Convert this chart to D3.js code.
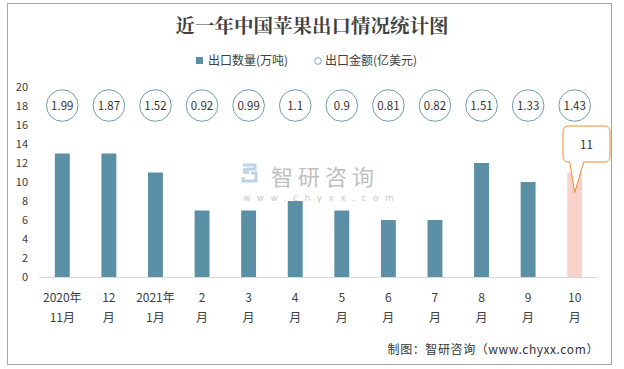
<!DOCTYPE html>
<html><head><meta charset="utf-8">
<script src="https://cdn.jsdelivr.net/npm/d3@7"></script>
<style>body{margin:0;background:#fff}svg{display:block}</style>
</head><body>
<svg id="c" width="624" height="369"></svg>
<script>
const categories = ["2020年\n11月","12\n月","2021年\n1月","2\n月","3\n月","4\n月","5\n月","6\n月","7\n月","8\n月","9\n月","10\n月"];
const quantity = [13,13,11,7,7,8,7,6,6,12,10,11];
const amount = [1.99,1.87,1.52,0.92,0.99,1.1,0.9,0.81,0.82,1.51,1.33,1.43];
const yTicks = [0,2,4,6,8,10,12,14,16,18,20];
const circleLevel = 18;
const title = "近一年中国苹果出口情况统计图";
const legendLabels = ["出口数量(万吨)","出口金额(亿美元)"];
const footer = "制图：智研咨询（www.chyxx.com）";

const svg = d3.select("#c");
const font = "'Microsoft YaHei','Noto Sans CJK SC','Noto Sans',sans-serif";

svg.append("rect").attr("x",7.5).attr("y",3.5).attr("width",604).attr("height",361)
  .attr("fill","#fff").attr("stroke","#a6a6a6").attr("stroke-width",1);

svg.append("text").attr("x",312).attr("y",33).attr("text-anchor","middle")
  .attr("font-family","'Noto Serif CJK SC','Noto Sans CJK SC',serif").attr("font-weight","bold")
  .attr("font-size",19.5).attr("fill","#404040").text(title);

// legend
const lg = svg.append("g").attr("font-family",font).attr("font-size",12).attr("fill","#404040");
lg.append("rect").attr("x",196).attr("y",57).attr("width",7).attr("height",7).attr("fill","#5a8fa6");
lg.append("text").attr("x",208).attr("y",65).text(legendLabels[0]);
lg.append("circle").attr("cx",318).attr("cy",61).attr("r",3.3).attr("fill","none").attr("stroke","#7fa9bd");
lg.append("text").attr("x",325).attr("y",65).text(legendLabels[1]);

const x = d3.scaleBand().domain(categories).range([39,598]).paddingInner(0.68).paddingOuter(0.34);
const y = d3.scaleLinear().domain([0,20]).range([277,87]);

// watermark
const wm = svg.append("g");
wm.append("rect").attr("x",243).attr("y",168).attr("width",6).attr("height",6).attr("fill","#c9d3e3");
wm.append("path").attr("d","M243,165 h12 v4 h-9 M251,173 h5 v8 h-13 v-4").attr("fill","none").attr("stroke","#bcd3ea").attr("stroke-width",3);
wm.append("text").attr("x",271).attr("y",185).attr("font-family",font).attr("font-size",22)
  .attr("fill","#bfbfbf").attr("letter-spacing",5).text("智研咨询");
wm.append("text").attr("x",243).attr("y",201).attr("font-family","'DejaVu Sans',sans-serif").attr("font-size",9)
  .attr("fill","#c8c8c8").attr("letter-spacing",6.5).text("www.chyxx.com");

// y tick labels
svg.append("g").selectAll("text").data(yTicks).join("text")
  .attr("x",28).attr("y",d=>y(d)+4).attr("text-anchor","end")
  .attr("font-family",font).attr("font-size",11).attr("fill","#404040").text(d=>d);

// bars
svg.append("g").selectAll("rect").data(quantity).join("rect")
  .attr("x",(d,i)=>x(categories[i])).attr("width",x.bandwidth())
  .attr("y",d=>y(d)).attr("height",d=>y(0)-y(d))
  .attr("fill",(d,i)=>i===quantity.length-1?"#f9d3c9":"#5a8fa6");

// axis line
svg.append("line").attr("x1",39).attr("x2",598).attr("y1",277.5).attr("y2",277.5)
  .attr("stroke","#d9d9d9").attr("stroke-width",1);

// x labels
const xl = svg.append("g").attr("font-family",font).attr("font-size",12).attr("fill","#404040").attr("text-anchor","middle");
categories.forEach((c,i)=>{
  const cx = x(c)+x.bandwidth()/2;
  const lines = c.split("\n");
  lines.forEach((t,j)=>xl.append("text").attr("x",cx).attr("y",302+j*20).text(t));
});

// amount circles
const cg = svg.append("g");
amount.forEach((v,i)=>{
  const cx = x(categories[i])+x.bandwidth()/2, cy = y(circleLevel)-0.5;
  cg.append("circle").attr("cx",cx).attr("cy",cy).attr("r",15.8).attr("fill","#fff").attr("stroke","#6f9bb0").attr("stroke-width",1);
  cg.append("text").attr("x",cx).attr("y",cy+4).attr("text-anchor","middle").attr("font-family",font)
    .attr("font-size",11.5).attr("fill","#333").text(v);
});

// callout for last bar
const li = quantity.length-1;
const lx = x(categories[li])+x.bandwidth()/2;
const tipY = y(quantity[li])+20;
const bx0 = 563, bx1 = 610, by0 = 126, by1 = 162, r = 6;
const p = `M${bx0+r},${by0} H${bx1-r} Q${bx1},${by0} ${bx1},${by0+r} V${by1-r} Q${bx1},${by1} ${bx1-r},${by1}
 H${lx+9} L${lx},${tipY} L${lx-5},${by1} H${bx0+r} Q${bx0},${by1} ${bx0},${by1-r} V${by0+r} Q${bx0},${by0} ${bx0+r},${by0} Z`;
svg.append("path").attr("d",p).attr("fill","#fff").attr("stroke","#ed8b2f").attr("stroke-width",1);
svg.append("text").attr("x",(bx0+bx1)/2).attr("y",149).attr("text-anchor","middle").attr("font-family",font)
  .attr("font-size",11.5).attr("fill","#333").text(quantity[li]);

// footer
svg.append("text").attr("x",599).attr("y",354).attr("text-anchor","end")
  .attr("font-family","'Noto Sans CJK SC',sans-serif").attr("font-size",12).attr("letter-spacing",0.6)
  .attr("fill","#333").text(footer);
</script>
</body></html>
